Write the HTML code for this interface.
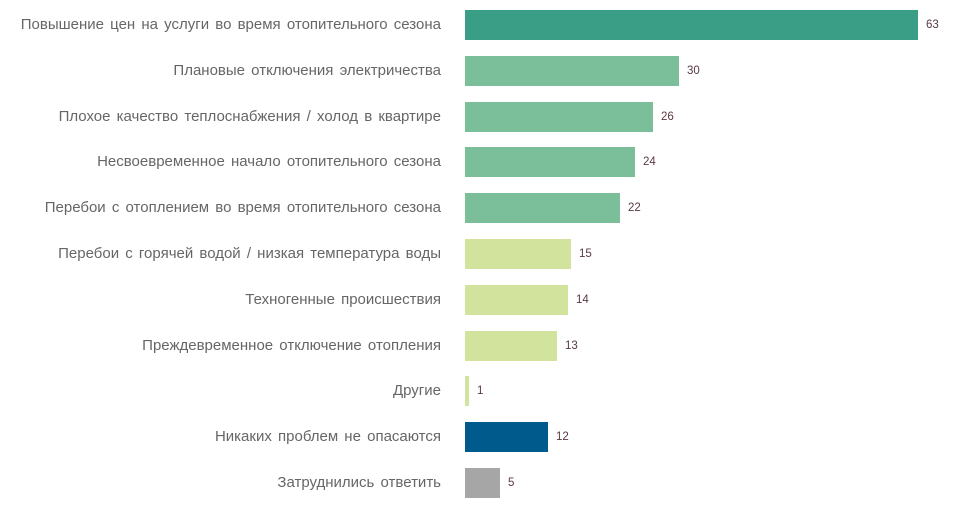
<!DOCTYPE html>
<html><head><meta charset="utf-8"><style>
body{margin:0;width:979px;height:506px;background:#fff;position:relative;overflow:hidden;font-family:"Liberation Sans","DejaVu Sans",sans-serif}
.l{position:absolute;right:538px;font-size:15px;color:#666;white-space:nowrap;line-height:30px;word-spacing:2px}
.b{position:absolute;left:465px;height:30px}
.v{position:absolute;font-size:11.5px;color:#5a3a40;line-height:30px}
</style></head><body>
<div id="c"></div>
<script>
var d=[["Повышение цен на услуги во время отопительного сезона",63,"#3a9e86",453],
["Плановые отключения электричества",30,"#7bbf9a",214],
["Плохое качество теплоснабжения / холод в квартире",26,"#7bbf9a",188],
["Несвоевременное  начало отопительного сезона",24,"#7bbf9a",170],
["Перебои с отоплением во время отопительного сезона",22,"#7bbf9a",155],
["Перебои с горячей водой / низкая температура воды",15,"#d1e39d",106],
["Техногенные происшествия",14,"#d1e39d",103],
["Преждевременное отключение отопления",13,"#d1e39d",92],
["Другие",1,"#d1e39d",4],
["Никаких проблем не опасаются",12,"#005a8c",83],
["Затруднились ответить",5,"#a6a6a6",35]];
var h="";
d.forEach(function(r,i){var t=10+i*45.8,w=r[3];
h+='<div class="l" style="top:'+t+'px">'+r[0]+'</div>';
h+='<div class="b" style="top:'+t+'px;width:'+w+'px;background:'+r[2]+'"></div>';
h+='<div class="v" style="top:'+t+'px;left:'+(465+w+8)+'px">'+r[1]+'</div>';});
document.getElementById("c").innerHTML=h;
</script>
</body></html>
